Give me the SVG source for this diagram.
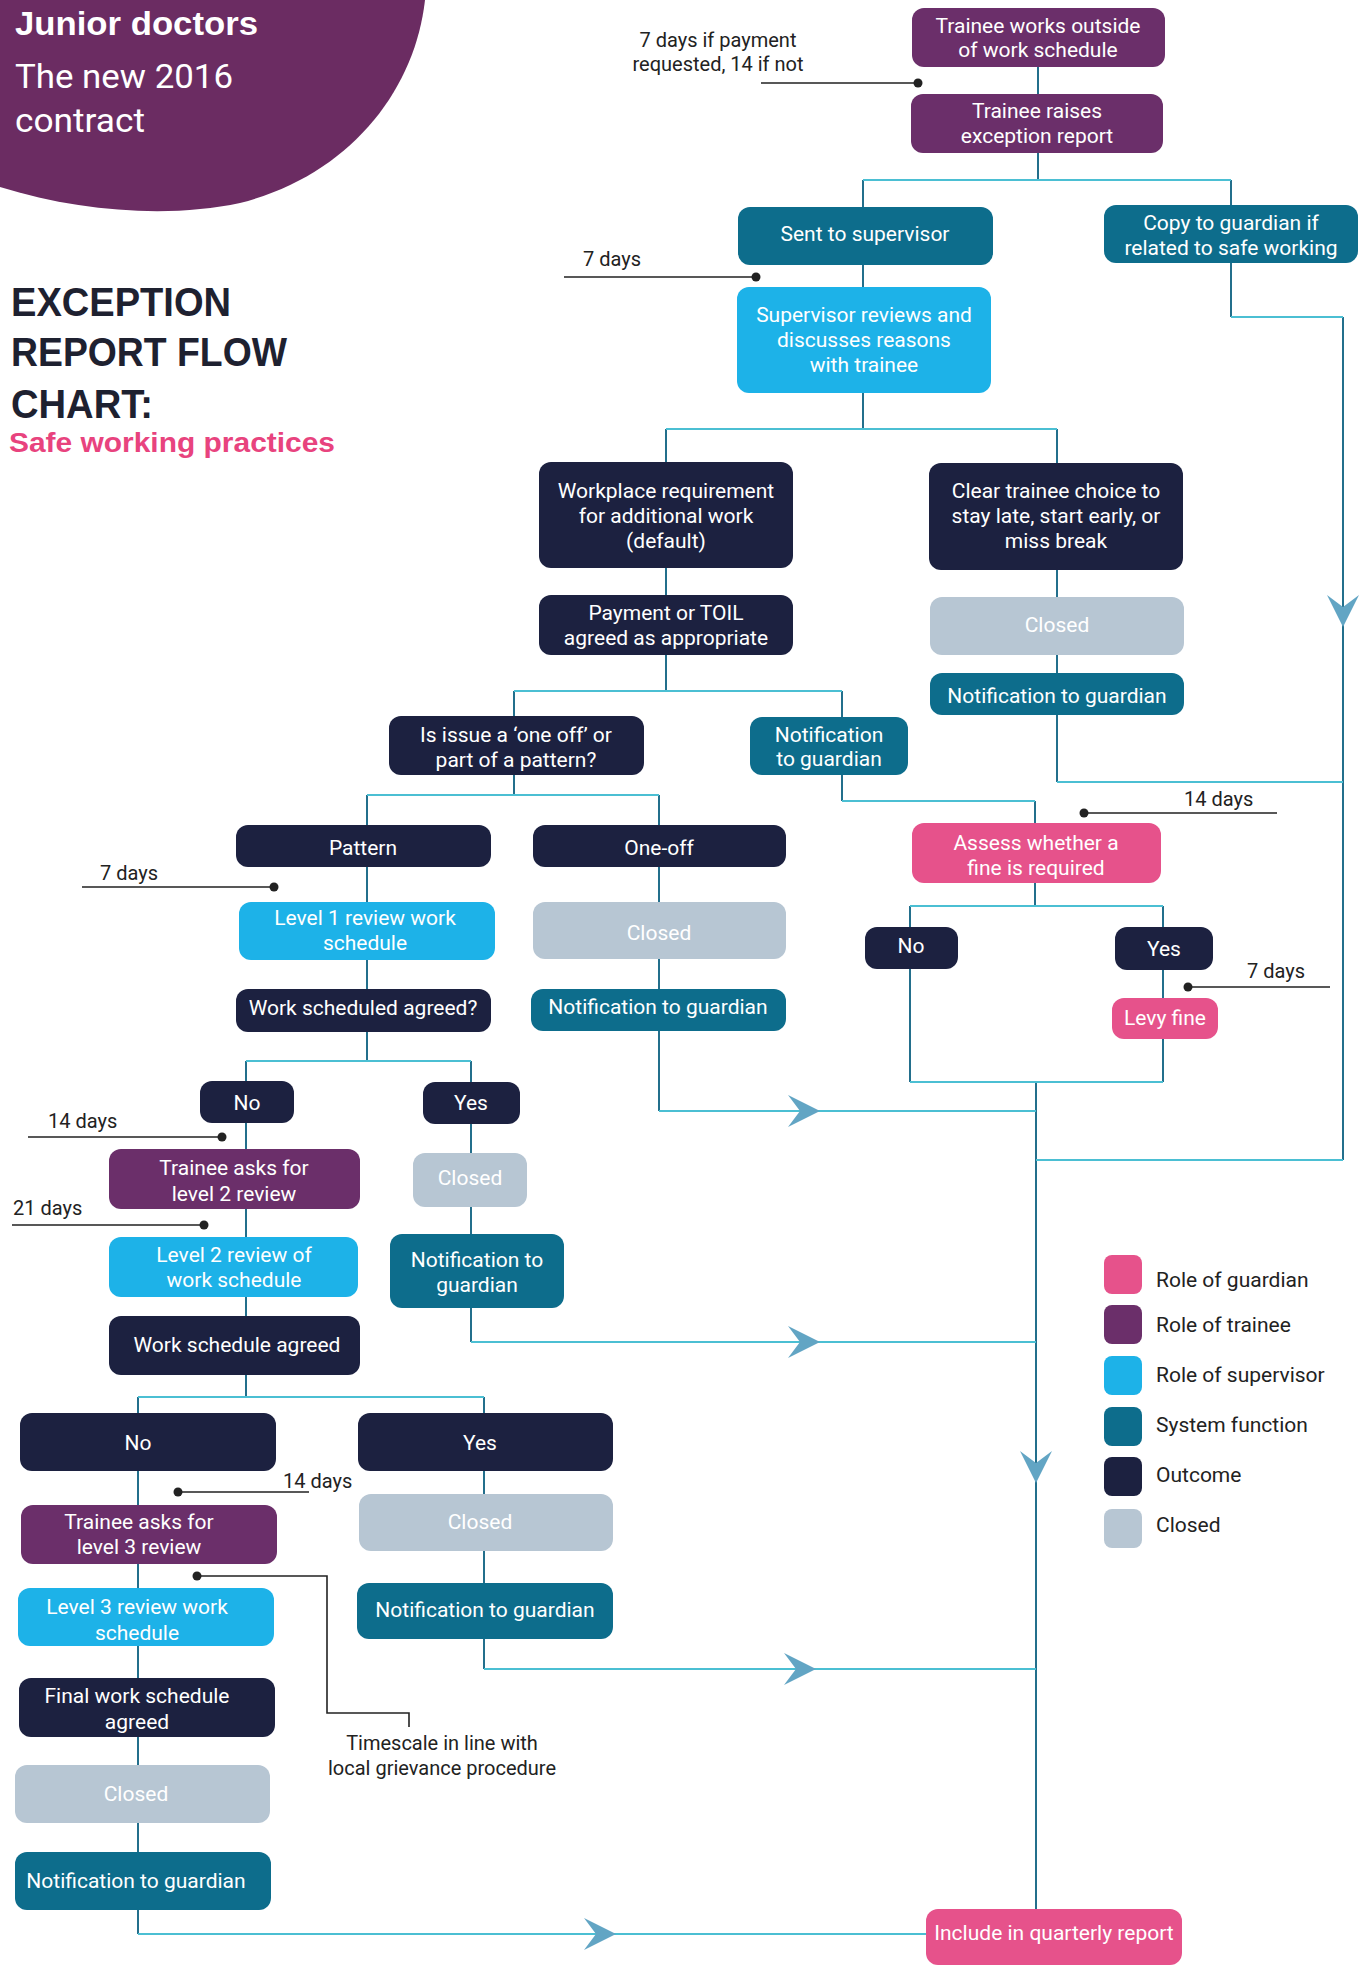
<svg xmlns="http://www.w3.org/2000/svg" width="1367" height="1966" viewBox="0 0 1367 1966">
<defs>
<style>
.n text{font-family:Roboto,'Liberation Sans',sans-serif;font-size:21px;fill:#fff;text-anchor:middle}
.trainee{fill:#6b2f6a}.guardian{fill:#e6528b}.super{fill:#1db2e8}.system{fill:#0d6d8c}.outcome{fill:#1c2140}.closed{fill:#b7c6d3}
.v{stroke:#236f8c;stroke-width:2;fill:none}
.h{stroke:#4bbfd3;stroke-width:2;fill:none}
.lbl{font-family:Roboto,'Liberation Sans',sans-serif;font-size:20px;fill:#222}
.tl{stroke:#222;stroke-width:1.6;fill:none}
.dot{fill:#222}
.arr{fill:#62a5c4}
.leg text{font-family:Roboto,'Liberation Sans',sans-serif;font-size:21px;fill:#222}
.hd{font-family:'Liberation Sans',Arial,sans-serif;font-weight:bold;font-size:40px;fill:#1e2130}
</style>
<path id="ar" d="M0,0 L-32,-16 L-20,0 L-32,16 Z"/>
</defs>
<rect width="1367" height="1966" fill="#fff"/>

<g id="title">
<path d="M0 0 L425 0 C415 90 350 175 240 203 C170 218 80 212 0 187 Z" fill="#6b2c62"/>
<text x="15" y="35" font-family="'Liberation Sans',Arial,sans-serif" font-weight="bold" font-size="33" fill="#fff" textLength="243" lengthAdjust="spacingAndGlyphs">Junior doctors</text>
<text x="15" y="88" font-family="Roboto,'Liberation Sans',sans-serif" font-size="33" fill="#fff" textLength="218" lengthAdjust="spacingAndGlyphs">The new 2016</text>
<text x="15" y="132" font-family="Roboto,'Liberation Sans',sans-serif" font-size="33" fill="#fff" textLength="130" lengthAdjust="spacingAndGlyphs">contract</text>
<text class="hd" x="11" y="316" textLength="220" lengthAdjust="spacingAndGlyphs">EXCEPTION</text>
<text class="hd" x="11" y="366" textLength="276" lengthAdjust="spacingAndGlyphs">REPORT FLOW</text>
<text class="hd" x="11" y="418" textLength="142" lengthAdjust="spacingAndGlyphs">CHART:</text>
<text x="9" y="452" font-family="'Liberation Sans',Arial,sans-serif" font-weight="bold" font-size="27" fill="#e8437e" textLength="326" lengthAdjust="spacingAndGlyphs">Safe working practices</text>
</g>

<g id="connectors">
<path class="v" d="M1038 67V94M1038 153V180M863 180V207M1231 180V205M863 265V287M1231 263V317M1343 317V1160M863 393V429M666 429V462M1057 429V463M666 568V595M1057 570V597M1057 655V673M1057 715V782M666 655V691M514 691V716M842 691V717M842 775V801M1035 801V823M1035 883V906M910 906V927M1163 906V927M1163 970V998M1163 1039V1082M910 969V1082M1036 1082V1909M514 775V795M367 795V825M659 795V825M367 867V902M367 960V989M659 867V902M659 959V989M659 1031V1111M367 1032V1061M246 1061V1081M471 1061V1082M246 1123V1149M246 1209V1237M246 1297V1316M471 1124V1153M471 1207V1234M471 1308V1342M246 1375V1397M138 1397V1413M484 1397V1413M138 1471V1505M138 1564V1588M138 1646V1678M138 1737V1765M138 1823V1852M484 1471V1494M484 1551V1583M484 1639V1669M138 1910V1934"/>
<path class="h" d="M863 180H1231M1231 317H1343M1036 1160H1343M666 429H1057M1057 782H1343M514 691H842M842 801H1035M910 906H1163M910 1082H1163M367 795H659M659 1111H1036M246 1061H471M471 1342H1036M138 1397H484M484 1669H1036M138 1934H926"/>
<use href="#ar" class="arr" transform="translate(1343,627) rotate(90)"/>
<use href="#ar" class="arr" transform="translate(1036,1483) rotate(90)"/>
<use href="#ar" class="arr" transform="translate(820,1111)"/>
<use href="#ar" class="arr" transform="translate(820,1342)"/>
<use href="#ar" class="arr" transform="translate(816,1669)"/>
<use href="#ar" class="arr" transform="translate(616,1934)"/>
</g>

<g id="timescales">
<path class="tl" d="M761 83H918M564 277H756M1084 813H1277M1188 987H1330M82 887H274M28 1137H222M12 1225H204M178 1492H309M197 1576H327V1713H409V1727"/>
<circle class="dot" cx="918" cy="83" r="4.5"/>
<circle class="dot" cx="756" cy="277" r="4.5"/>
<circle class="dot" cx="1084" cy="813" r="4.5"/>
<circle class="dot" cx="1188" cy="987" r="4.5"/>
<circle class="dot" cx="274" cy="887" r="4.5"/>
<circle class="dot" cx="222" cy="1137" r="4.5"/>
<circle class="dot" cx="204" cy="1225" r="4.5"/>
<circle class="dot" cx="178" cy="1492" r="4.5"/>
<circle class="dot" cx="197" cy="1576" r="4.5"/>
<text class="lbl" x="718" y="47" text-anchor="middle">7 days if payment</text>
<text class="lbl" x="718" y="71" text-anchor="middle">requested, 14 if not</text>
<text class="lbl" x="583" y="266">7 days</text>
<text class="lbl" x="1184" y="806">14 days</text>
<text class="lbl" x="1247" y="978">7 days</text>
<text class="lbl" x="100" y="880">7 days</text>
<text class="lbl" x="48" y="1128">14 days</text>
<text class="lbl" x="13" y="1215">21 days</text>
<text class="lbl" x="283" y="1488">14 days</text>
<text class="lbl" x="442" y="1750" text-anchor="middle" font-size="21">Timescale in line with</text>
<text class="lbl" x="442" y="1775" text-anchor="middle" font-size="21">local grievance procedure</text>
</g>

<g id="n1" class="n"><rect class="trainee" x="912" y="8" width="253" height="59" rx="12"/><text x="1038" y="33">Trainee works outside</text><text x="1038" y="57">of  work schedule</text></g>
<g id="n2" class="n"><rect class="trainee" x="911" y="94" width="252" height="59" rx="12"/><text x="1037" y="118">Trainee raises</text><text x="1037" y="143">exception report</text></g>
<g id="n3" class="n"><rect class="system" x="738" y="207" width="255" height="58" rx="12"/><text x="865" y="241">Sent to supervisor</text></g>
<g id="n4" class="n"><rect class="system" x="1104" y="205" width="254" height="58" rx="12"/><text x="1231" y="230">Copy to guardian if</text><text x="1231" y="255">related to safe working</text></g>
<g id="n5" class="n"><rect class="super" x="737" y="287" width="254" height="106" rx="12"/><text x="864" y="322">Supervisor reviews and</text><text x="864" y="347">discusses reasons</text><text x="864" y="372">with trainee</text></g>
<g id="n6" class="n"><rect class="outcome" x="539" y="462" width="254" height="106" rx="12"/><text x="666" y="498">Workplace requirement</text><text x="666" y="523">for additional work</text><text x="666" y="548">(default)</text></g>
<g id="n7" class="n"><rect class="outcome" x="929" y="463" width="254" height="107" rx="12"/><text x="1056" y="498">Clear trainee choice to</text><text x="1056" y="523">stay late, start early, or</text><text x="1056" y="548">miss break</text></g>
<g id="n8" class="n"><rect class="outcome" x="539" y="595" width="254" height="60" rx="12"/><text x="666" y="620">Payment or TOIL</text><text x="666" y="645">agreed as appropriate</text></g>
<g id="n9" class="n"><rect class="closed" x="930" y="597" width="254" height="58" rx="12"/><text x="1057" y="632">Closed</text></g>
<g id="n10" class="n"><rect class="system" x="930" y="673" width="254" height="42" rx="12"/><text x="1057" y="703">Notification to guardian</text></g>
<g id="n11" class="n"><rect class="outcome" x="389" y="716" width="255" height="59" rx="12"/><text x="516" y="742">Is issue a ‘one off’ or</text><text x="516" y="767">part of a pattern?</text></g>
<g id="n12" class="n"><rect class="system" x="750" y="717" width="158" height="58" rx="12"/><text x="829" y="742">Notification</text><text x="829" y="766">to guardian</text></g>
<g id="n13" class="n"><rect class="outcome" x="236" y="825" width="255" height="42" rx="12"/><text x="363" y="855">Pattern</text></g>
<g id="n14" class="n"><rect class="outcome" x="533" y="825" width="253" height="42" rx="12"/><text x="659" y="855">One-off</text></g>
<g id="n15" class="n"><rect class="super" x="239" y="902" width="256" height="58" rx="12"/><text x="365" y="925">Level 1 review work</text><text x="365" y="950">schedule</text></g>
<g id="n16" class="n"><rect class="closed" x="533" y="902" width="253" height="57" rx="12"/><text x="659" y="940">Closed</text></g>
<g id="n17" class="n"><rect class="outcome" x="236" y="989" width="255" height="43" rx="12"/><text x="363" y="1015">Work scheduled agreed?</text></g>
<g id="n18" class="n"><rect class="system" x="531" y="989" width="255" height="42" rx="12"/><text x="658" y="1014">Notification to guardian</text></g>
<g id="n19" class="n"><rect class="guardian" x="912" y="823" width="249" height="60" rx="12"/><text x="1036" y="850">Assess whether a</text><text x="1036" y="875">fine is required</text></g>
<g id="n20" class="n"><rect class="outcome" x="865" y="927" width="93" height="42" rx="12"/><text x="911" y="953">No</text></g>
<g id="n21" class="n"><rect class="outcome" x="1115" y="927" width="98" height="43" rx="12"/><text x="1164" y="956">Yes</text></g>
<g id="n22" class="n"><rect class="guardian" x="1112" y="998" width="106" height="41" rx="12"/><text x="1165" y="1025">Levy fine</text></g>
<g id="n23" class="n"><rect class="outcome" x="200" y="1081" width="94" height="42" rx="12"/><text x="247" y="1110">No</text></g>
<g id="n24" class="n"><rect class="outcome" x="423" y="1082" width="97" height="42" rx="12"/><text x="471" y="1110">Yes</text></g>
<g id="n25" class="n"><rect class="trainee" x="109" y="1149" width="251" height="60" rx="12"/><text x="234" y="1175">Trainee asks for</text><text x="234" y="1201">level 2 review</text></g>
<g id="n26" class="n"><rect class="closed" x="413" y="1153" width="114" height="54" rx="12"/><text x="470" y="1185">Closed</text></g>
<g id="n27" class="n"><rect class="super" x="109" y="1237" width="249" height="60" rx="12"/><text x="234" y="1262">Level 2 review of</text><text x="234" y="1287">work schedule</text></g>
<g id="n28" class="n"><rect class="system" x="390" y="1234" width="174" height="74" rx="12"/><text x="477" y="1267">Notification to</text><text x="477" y="1292">guardian</text></g>
<g id="n29" class="n"><rect class="outcome" x="109" y="1316" width="251" height="59" rx="12"/><text x="237" y="1352">Work schedule agreed</text></g>
<g id="n30" class="n"><rect class="outcome" x="20" y="1413" width="256" height="58" rx="12"/><text x="138" y="1450">No</text></g>
<g id="n31" class="n"><rect class="outcome" x="358" y="1413" width="255" height="58" rx="12"/><text x="480" y="1450">Yes</text></g>
<g id="n32" class="n"><rect class="trainee" x="21" y="1505" width="256" height="59" rx="12"/><text x="139" y="1529">Trainee asks for</text><text x="139" y="1554">level 3 review</text></g>
<g id="n33" class="n"><rect class="closed" x="359" y="1494" width="254" height="57" rx="12"/><text x="480" y="1529">Closed</text></g>
<g id="n34" class="n"><rect class="system" x="357" y="1583" width="256" height="56" rx="12"/><text x="485" y="1617">Notification to guardian</text></g>
<g id="n35" class="n"><rect class="super" x="18" y="1588" width="256" height="58" rx="12"/><text x="137" y="1614">Level 3 review work</text><text x="137" y="1640">schedule</text></g>
<g id="n36" class="n"><rect class="outcome" x="19" y="1678" width="256" height="59" rx="12"/><text x="137" y="1703">Final work schedule</text><text x="137" y="1729">agreed</text></g>
<g id="n37" class="n"><rect class="closed" x="15" y="1765" width="255" height="58" rx="12"/><text x="136" y="1801">Closed</text></g>
<g id="n38" class="n"><rect class="system" x="15" y="1852" width="256" height="58" rx="12"/><text x="136" y="1888">Notification to guardian</text></g>
<g id="n39" class="n"><rect class="guardian" x="926" y="1909" width="256" height="56" rx="12"/><text x="1054" y="1940" font-size="22">Include in quarterly report</text></g>

<g id="legend" class="leg">
<rect class="guardian" x="1104" y="1255" width="38" height="39" rx="8"/><text x="1156" y="1287">Role of guardian</text>
<rect class="trainee" x="1104" y="1305" width="38" height="39" rx="8"/><text x="1156" y="1332">Role of trainee</text>
<rect class="super" x="1104" y="1356" width="38" height="39" rx="8"/><text x="1156" y="1382">Role of supervisor</text>
<rect class="system" x="1104" y="1407" width="38" height="39" rx="8"/><text x="1156" y="1432">System function</text>
<rect class="outcome" x="1104" y="1457" width="38" height="39" rx="8"/><text x="1156" y="1482">Outcome</text>
<rect class="closed" x="1104" y="1509" width="38" height="39" rx="8"/><text x="1156" y="1532">Closed</text>
</g>
</svg>
